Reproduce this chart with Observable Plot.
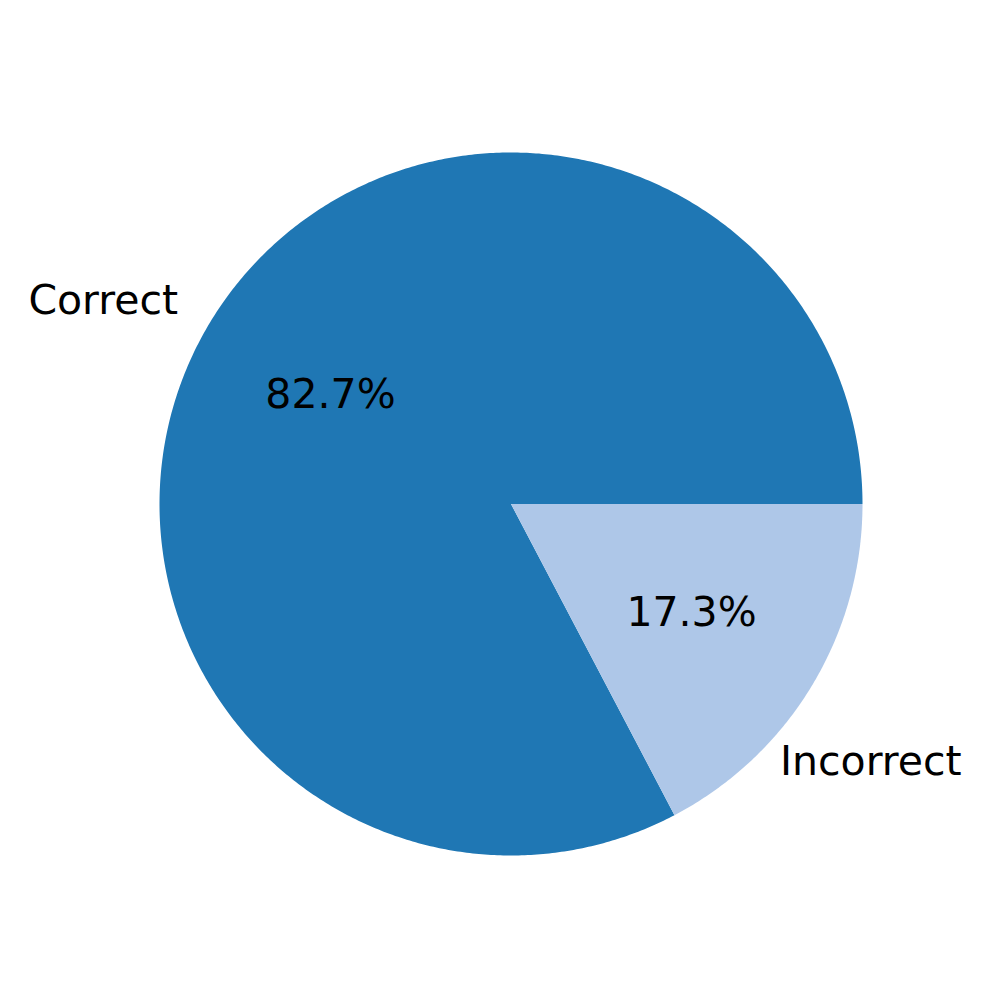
<!DOCTYPE html>
<html>
<head>
<meta charset="utf-8">
<script src="https://cdn.jsdelivr.net/npm/d3@7"></script>
<script src="https://cdn.jsdelivr.net/npm/@observablehq/plot@0.6"></script>
<style>
  html, body { margin: 0; padding: 0; background: #fff; }
  #chart svg { display: block; }
</style>
</head>
<body>
<div id="chart"></div>
<script>
const categories = ["Correct", "Incorrect"];
const values = [82.7, 17.3];
const colors = ["#1f77b4", "#aec7e8"];

// Build wedge polygons (matplotlib style: start at 0°, counterclockwise)
const total = d3.sum(values);
const wedges = [];
const labels = [];
let start = 0;
values.forEach((v, i) => {
  const a0 = start, a1 = start + (v / total) * 2 * Math.PI;
  const pts = [{cat: categories[i], x: 0, y: 0}];
  const n = Math.max(2, Math.ceil((a1 - a0) / (Math.PI / 360)));
  for (let k = 0; k <= n; k++) {
    const a = a0 + (a1 - a0) * k / n;
    pts.push({cat: categories[i], x: Math.cos(a), y: Math.sin(a)});
  }
  pts.push({cat: categories[i], x: 0, y: 0});
  wedges.push(...pts);
  const mid = (a0 + a1) / 2;
  labels.push({
    cat: categories[i],
    pct: (v / total * 100).toFixed(1) + "%",
    lx: 1.1 * Math.cos(mid), ly: 1.1 * Math.sin(mid),
    px: 0.6 * Math.cos(mid), py: 0.6 * Math.sin(mid),
    anchor: Math.cos(mid) > 0 ? "start" : "end"
  });
  start = a1;
});

const font = "DejaVu Sans, sans-serif";
const chart = Plot.plot({
  width: 997,
  height: 997,
  margin: 0,
  x: {domain: [-1, 1], range: [159, 862], axis: null},
  y: {domain: [-1, 1], range: [855, 152], axis: null},
  color: {domain: categories, range: colors},
  style: {background: "#fff", fontFamily: font},
  marks: [
    Plot.line(wedges, {x: "x", y: "y", z: "cat", fill: "cat", stroke: "none", curve: "linear"}),
    Plot.text(labels.filter(d => d.anchor === "end"), {x: "lx", y: "ly", text: "cat", textAnchor: "end", fontSize: 41, fill: "#000", dx: -2, dy: -3}),
    Plot.text(labels.filter(d => d.anchor === "start"), {x: "lx", y: "ly", text: "cat", textAnchor: "start", fontSize: 41, fill: "#000", dx: -62, dy: 58}),
    Plot.text(labels, {x: "px", y: "py", text: "pct", fontSize: 41, fill: "#000"})
  ]
});
document.getElementById("chart").appendChild(chart);
</script>
</body>
</html>
